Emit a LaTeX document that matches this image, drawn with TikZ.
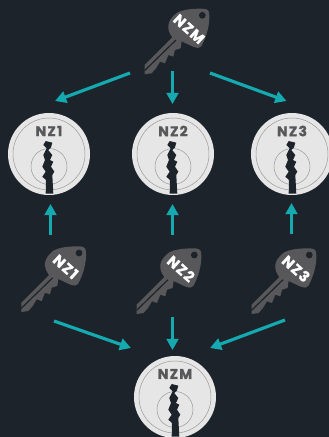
\documentclass[tikz,border=0pt]{standalone}
\usepackage{fontspec}
\setmainfont{Poppins}
\newfontfamily\labelfont[LetterSpace=9,FakeBold=1.2]{Poppins Bold}
\usetikzlibrary{arrows.meta}
\definecolor{bgdark}{RGB}{28,35,42}
\definecolor{keygray}{RGB}{88,88,90}
\definecolor{ringgray}{RGB}{150,150,150}
\definecolor{lockface}{RGB}{230,230,230}
\definecolor{arrowteal}{RGB}{20,170,176}
\tikzset{
  tealarrow/.style={-{Triangle[length=9.5pt,width=10pt]},line width=2.7pt,arrowteal},
  keytext/.style={text=white,font=\labelfont\fontsize{12.5}{12.5}\selectfont,rotate=-42,inner sep=0pt},
  locktext/.style={text=keygray,font=\labelfont\fontsize{12}{12}\selectfont,inner sep=0pt},
  lockbody/.style={circle,fill=lockface,minimum size=70pt,inner sep=0pt},
}
% #1 name, #2 x, #3 y of the key hole, #4 text
\newcommand{\keyicon}[4]{
\begin{scope}[shift={(#2,#3)}]
\fill[keygray] (-30,22) .. controls (-36,14) and (-36,6) .. (-26,-2)
  .. controls (-20,-6) and (-8,-7) .. (2,-6.5)
  .. controls (6,-6) and (7,-4) .. (7,0)
  .. controls (7.5,10) and (4,22) .. (-1,31)
  .. controls (-2,33) and (-5,33) .. (-9,31.5)
  -- (-20.7,26) -- (-21.7,33) -- (-27.3,34.7) -- (-29,41.3) -- (-34,39.7)
  -- (-37.3,48) -- (-42.3,46.3) -- (-46.3,53) -- (-50.7,58) -- (-57.7,59)
  -- (-57.7,49.7) -- cycle;
\draw[bgdark,line width=1pt] (-26.3,24.7) -- (-57.7,55.3);
\fill[bgdark] (0,0) circle (3.4);
\node[keytext] (#1) at (-13.3,13.7) {#4};
\end{scope}
}
% #1 name, #2 x, #3 y of the centre, #4 text
\newcommand{\lockicon}[4]{
\node[lockbody] (#1) at (#2,#3) {};
\begin{scope}[shift={(#2,#3)}]
\draw[ringgray,line width=.4pt] (0,0) circle (36);
\draw[ringgray,line width=.4pt] (0,12.5) circle (18);
\fill[bgdark] (-3.3,-13) -- (3.3,-11.3) -- (2,-6.7) -- (-.7,-4) -- (3.3,1) -- (1,6)
  -- (4.3,7.7) -- (2,12.7) -- (5.3,17.7) -- (3.3,21) -- (4.3,39.5) -- (-3.3,39.5)
  -- (-3,26) -- (-6.7,22.7) -- (-3.3,17.7) -- (-6.7,12.7) -- (-4,6) -- (-5.7,1)
  -- (-2.3,-5.7) -- (-5.7,-9) -- cycle;
\node[locktext] (#1text) at (0,-23) {#4};
\end{scope}
}
\begin{document}
\begin{tikzpicture}[x=.03cm,y=-.03cm]
\fill[bgdark] (0,0) rectangle (329,437);
\clip (0,0) rectangle (329,437);

\keyicon{nzmkey}{202.3}{15.3}{NZM}
\keyicon{nz1key}{79}{253}{NZ1}
\keyicon{nz2key}{194.3}{255}{NZ2}
\keyicon{nz3key}{309.3}{255}{NZ3}

\lockicon{nz1lock}{49}{154}{NZ1}
\lockicon{nz2lock}{173}{154}{NZ2}
\lockicon{nz3lock}{292}{154}{NZ3}
\lockicon{nzmlock}{175}{397}{NZM}

% arrow ends beside the keys and locks
\coordinate (nzmout1) at (130,73);
\coordinate (nzmout2) at (172.5,71);
\coordinate (nzmout3) at (210,73);
\coordinate (nz1in) at (55,101);
\coordinate (nz2in) at (172.5,104);
\coordinate (nz3in) at (286.5,101);
\coordinate (nz1up) at (50.5,235);
\coordinate (nz2up) at (172.5,235);
\coordinate (nz3up) at (291.5,234);
\coordinate (nz1tip) at (50.5,204);
\coordinate (nz2tip) at (172.5,204);
\coordinate (nz3tip) at (291.5,203);
\coordinate (nz1down) at (54,321);
\coordinate (nz2down) at (172.5,317);
\coordinate (nz3down) at (285,320);
\coordinate (nzmin1) at (131,348);
\coordinate (nzmin2) at (172.5,350);
\coordinate (nzmin3) at (210,348);

\draw[tealarrow] (nzmout1) -- (nz1in);
\draw[tealarrow] (nzmout2) -- (nz2in);
\draw[tealarrow] (nzmout3) -- (nz3in);
\draw[tealarrow] (nz1up) -- (nz1tip);
\draw[tealarrow] (nz2up) -- (nz2tip);
\draw[tealarrow] (nz3up) -- (nz3tip);
\draw[tealarrow] (nz1down) -- (nzmin1);
\draw[tealarrow] (nz2down) -- (nzmin2);
\draw[tealarrow] (nz3down) -- (nzmin3);
\end{tikzpicture}
\end{document}
